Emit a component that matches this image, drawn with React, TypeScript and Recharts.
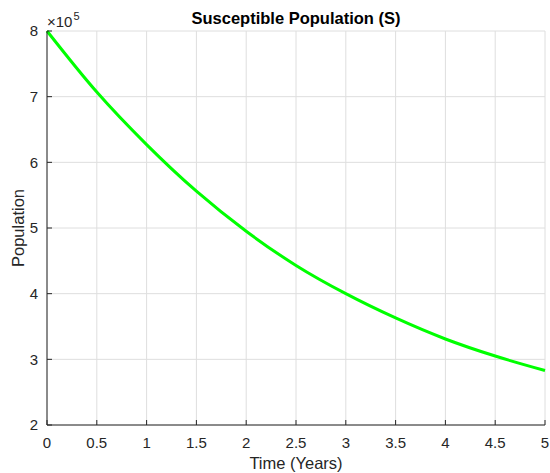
import { LineChart, Line, XAxis, YAxis, CartesianGrid } from 'recharts';

const years = [0, 0.5, 1, 1.5, 2, 2.5, 3, 3.5, 4, 4.5, 5];
const susceptible = [800000, 707000, 627000, 556000, 495000, 443000, 400000, 363000, 331000, 305000, 283000];

const xTicks = [0, 0.5, 1, 1.5, 2, 2.5, 3, 3.5, 4, 4.5, 5];
const yTicks = [200000, 300000, 400000, 500000, 600000, 700000, 800000];

const data = years.map((t, i) => ({ t, s: susceptible[i] }));

const axisColor = '#262626';
const gridColor = '#dedede';
const font = '"Liberation Sans", Arial, sans-serif';

export default function App() {
  const tickStyle = { fill: axisColor, fontSize: 15, fontFamily: font };

  return (
    <div style={{ position: 'absolute', left: 0, top: 0, width: 550, height: 473, background: '#fff' }}>
      <LineChart
        width={550}
        height={473}
        data={data}
        margin={{ top: 31, right: 5, bottom: 0, left: 0 }}
      >
        <CartesianGrid stroke={gridColor} strokeWidth={1} />
        <XAxis
          dataKey="t"
          type="number"
          domain={[0, 5]}
          ticks={xTicks}
          height={48}
          stroke={axisColor}
          tickSize={-5}
          tickMargin={17}
          tick={tickStyle}
          interval={0}
          label={{ value: 'Time (Years)', position: 'insideBottom', offset: 4, fill: axisColor, fontSize: 16.5, fontFamily: font }}
        />
        <XAxis
          xAxisId="top"
          orientation="top"
          dataKey="t"
          type="number"
          domain={[0, 5]}
          ticks={xTicks}
          height={0}
          stroke={axisColor}
          tickSize={-5}
          tick={false}
          interval={0}
        />
        <YAxis
          type="number"
          domain={[200000, 800000]}
          ticks={yTicks}
          width={47}
          stroke={axisColor}
          tickSize={-5}
          tickMargin={14}
          tick={tickStyle}
          interval={0}
          tickFormatter={(v: number) => String(v / 100000)}
          label={{ value: 'Population', angle: -90, position: 'insideLeft', offset: 18, fill: axisColor, fontSize: 16.5, fontFamily: font, style: { textAnchor: 'middle' } }}
        />
        <YAxis
          yAxisId="right"
          orientation="right"
          type="number"
          domain={[200000, 800000]}
          ticks={yTicks}
          width={0}
          stroke={axisColor}
          tickSize={-5}
          tick={false}
          interval={0}
        />
        <Line
          type="monotone"
          dataKey="s"
          stroke="#00ff00"
          strokeWidth={3}
          dot={false}
          isAnimationActive={false}
        />
      </LineChart>
      <svg
        width={550}
        height={473}
        style={{ position: 'absolute', left: 0, top: 0, pointerEvents: 'none' }}
      >
        <text x={296} y={24} textAnchor="middle" fontFamily={font} fontWeight="bold" fontSize={16.5} fill="#000">
          Susceptible Population (S)
        </text>
        <text x={47} y={27} fontFamily={font} fontSize={15} fill={axisColor}>
          <tspan>×10</tspan>
          <tspan dx={1} dy={-7} fontSize={11}>5</tspan>
        </text>
      </svg>
    </div>
  );
}
